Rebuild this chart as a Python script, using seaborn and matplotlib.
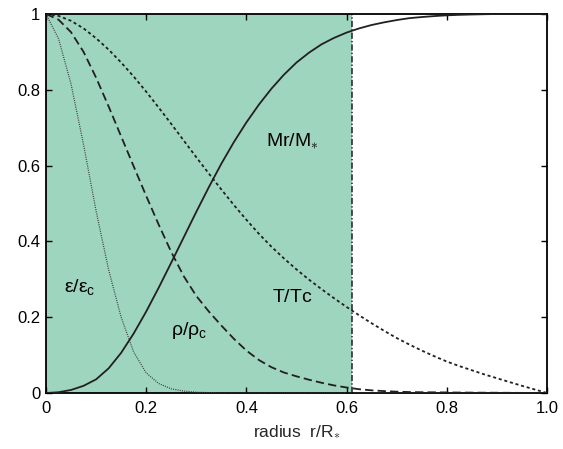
import matplotlib
matplotlib.use("Agg")
import matplotlib.pyplot as plt
import seaborn as sns
import pandas as pd

# ---------------- data ----------------
radius = [0.000, 0.025, 0.050, 0.075, 0.100, 0.125, 0.150, 0.175, 0.200, 0.225,
          0.250, 0.275, 0.300, 0.325, 0.350, 0.375, 0.400, 0.425, 0.450, 0.475,
          0.500, 0.525, 0.550, 0.575, 0.600, 0.625, 0.650, 0.675, 0.700, 0.725,
          0.750, 0.775, 0.800, 0.825, 0.850, 0.875, 0.900, 0.925, 0.950, 0.975,
          1.000]

mass = [0.000, 0.002, 0.008, 0.019, 0.036, 0.065, 0.106, 0.157, 0.215, 0.278,
        0.344, 0.411, 0.478, 0.543, 0.605, 0.662, 0.714, 0.761, 0.803, 0.840,
        0.872, 0.898, 0.920, 0.937, 0.951, 0.962, 0.971, 0.978, 0.984, 0.989,
        0.992, 0.9945, 0.9965, 0.9978, 0.9987, 0.9994, 1.000, 1.000, 1.000, 1.000,
        1.000]

density = [1.000, 0.985, 0.952, 0.900, 0.832, 0.756, 0.677, 0.598, 0.520, 0.444,
           0.372, 0.308, 0.256, 0.215, 0.178, 0.143, 0.112, 0.087, 0.068, 0.054,
           0.044, 0.035, 0.027, 0.020, 0.0145, 0.010, 0.007, 0.005, 0.0035, 0.0025,
           0.002, 0.0018, 0.0015, 0.0012, 0.001, 0.0008, 0.0007, 0.0005, 0.0003, 0.0002,
           0.000]

temperature = [1.000, 0.995, 0.982, 0.962, 0.936, 0.906, 0.872, 0.835, 0.795, 0.753,
               0.710, 0.666, 0.622, 0.579, 0.537, 0.496, 0.457, 0.420, 0.386, 0.355,
               0.326, 0.299, 0.274, 0.250, 0.227, 0.205, 0.184, 0.164, 0.145, 0.128,
               0.112, 0.097, 0.083, 0.071, 0.060, 0.049, 0.039, 0.029, 0.019, 0.0095,
               0.000]

energy = [1.000, 0.935, 0.815, 0.655, 0.480, 0.325, 0.200, 0.108, 0.053, 0.025,
          0.011, 0.005, 0.002, 0.001, 0.000, 0.000, 0.000, 0.000, 0.000, 0.000,
          0.000, 0.000, 0.000, 0.000, 0.000, 0.000, 0.000, 0.000, 0.000, 0.000,
          0.000, 0.000, 0.000, 0.000, 0.000, 0.000, 0.000, 0.000, 0.000, 0.000,
          0.000]

core_edge = 0.61
x_ticks = [0, 0.2, 0.4, 0.6, 0.8, 1.0]
x_tick_labels = ["0", "0.2", "0.4", "0.6", "0.8", "1.0"]
y_ticks = [0, 0.2, 0.4, 0.6, 0.8, 1.0]
y_tick_labels = ["0", "0.2", "0.4", "0.6", "0.8", "1"]

df = pd.DataFrame({"r": radius, "M": mass, "rho": density,
                   "T": temperature, "eps": energy})

# ---------------- style ----------------
sns.set_theme(style="ticks")
plt.rcParams["font.family"] = ["Liberation Sans", "DejaVu Sans"]
plt.rcParams["mathtext.fontset"] = "custom"
plt.rcParams["mathtext.rm"] = "Liberation Sans"
plt.rcParams["mathtext.it"] = "Liberation Sans"
plt.rcParams["lines.scale_dashes"] = False

green = "#9ed5bf"
ink = "#231f20"

fig = plt.figure(figsize=(5.63, 4.49), dpi=100)
ax = fig.add_axes([46 / 563, 56 / 449, 501 / 563, 379 / 449])

ax.axvspan(0, core_edge, color=green, lw=0, zorder=0)
ax.axvline(core_edge, color=ink, lw=1.1, ls=(0, (4.5, 1.5, 1.0, 1.5)), zorder=1)

sns.lineplot(data=df, x="r", y="eps", ax=ax, color="#3a3a3a", lw=0.9,
             ls=(0, (0.7, 0.9)), zorder=3)
sns.lineplot(data=df, x="r", y="rho", ax=ax, color=ink, lw=1.3,
             ls=(0, (6, 3)), zorder=3)
sns.lineplot(data=df, x="r", y="T", ax=ax, color=ink, lw=1.3,
             ls=(0, (2.2, 2.0)), zorder=3)
sns.lineplot(data=df, x="r", y="M", ax=ax, color=ink, lw=1.3, zorder=4)

ax.set_xlim(0, 1.0)
ax.set_ylim(0, 1.0)
ax.set_xticks(x_ticks)
ax.set_xticklabels(x_tick_labels)
ax.set_yticks(y_ticks)
ax.set_yticklabels(y_tick_labels)
ax.tick_params(direction="in", top=True, right=True, length=4, width=1.0,
               labelsize=12, colors="black")
ax.tick_params(axis="y", pad=4)
ax.tick_params(axis="x", pad=6)
for s in ax.spines.values():
    s.set_visible(True)
    s.set_linewidth(1.3)
    s.set_color("black")

ax.set_xlabel(r"radius  r/R$_{\ast}$", fontsize=12.5, labelpad=5)
ax.set_ylabel("")

lab = dict(fontsize=14, color="black", va="center", ha="left", zorder=5)
ax.text(0.44, 0.667, r"M$\mathregular{r}$/M$_{\ast}$", **lab)
ax.text(0.035, 0.28, r"ε/ε$_{\mathregular{c}}$", **lab)
ax.text(0.249, 0.166, r"ρ/ρ$_{\mathregular{c}}$", **lab)
ax.text(0.451, 0.253, r"T/T$\mathregular{c}$", **lab)

fig.savefig("out.png", dpi=100)
